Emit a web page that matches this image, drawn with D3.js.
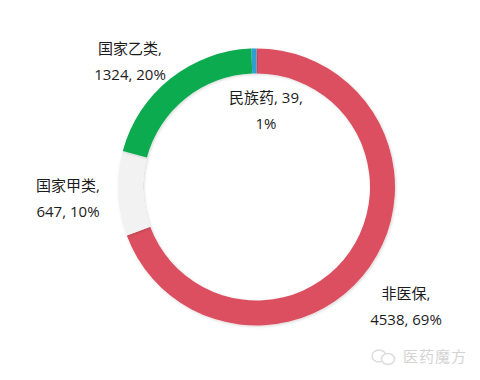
<!DOCTYPE html>
<html>
<head>
<meta charset="utf-8">
<script src="https://cdn.jsdelivr.net/npm/d3@7"></script>
<style>
  html, body { margin: 0; padding: 0; background: #fff; }
  text { font-family: "Open Sans", "Noto Sans CJK SC", sans-serif; fill: #1c1c1c; }
</style>
</head>
<body>
<svg id="plot" width="480" height="380"></svg>
<script>
var categories = ["非医保", "国家甲类", "国家乙类", "民族药"];
var values = [4538, 647, 1324, 39];
var percents = ["69%", "10%", "20%", "1%"];
var colors = ["#dc5060", "#f2f2f2", "#0bab50", "#2f9fd0"];

// label lines, second line break differs per slice
var labelLines = [
  [categories[0] + ",", values[0] + ", " + percents[0]],
  [categories[1] + ",", values[1] + ", " + percents[1]],
  [categories[2] + ",", values[2] + ", " + percents[2]],
  [categories[3] + ", " + values[3] + ",", percents[3]]
];
var labelPos = [[406, 293], [68, 185], [130, 48], [266, 97]];

var svg = d3.select("#plot");

var defs = svg.append("defs");
var shadow = defs.append("filter").attr("id", "shadow")
  .attr("x", "-10%").attr("y", "-10%").attr("width", "120%").attr("height", "120%");
shadow.append("feDropShadow")
  .attr("dx", 1).attr("dy", 1).attr("stdDeviation", 1.5)
  .attr("flood-color", "#000").attr("flood-opacity", 0.16);

var g = svg.append("g").attr("transform", "translate(256.5,187)");

var pie = d3.pie().sort(null);
var arc = d3.arc().innerRadius(113.5).outerRadius(138.5);

g.selectAll("path")
  .data(pie(values))
  .enter().append("path")
  .attr("d", arc)
  .attr("fill", function (d, i) { return colors[i]; })
  .attr("filter", "url(#shadow)");

labelLines.forEach(function (lines, i) {
  var t = svg.append("text")
    .attr("text-anchor", "middle")
    .style("font-size", "15px");
  lines.forEach(function (line, j) {
    t.append("tspan")
      .attr("x", labelPos[i][0])
      .attr("y", labelPos[i][1] + j * 26.5 + 5.5)
      .text(line);
  });
});

// watermark
var mark = svg.append("g").attr("fill", "#fff").attr("stroke", "#dcdcdc").attr("stroke-width", 1.5);
mark.append("ellipse").attr("cx", 379).attr("cy", 356).attr("rx", 7).attr("ry", 6);
mark.append("ellipse").attr("cx", 388).attr("cy", 359).attr("rx", 6.5).attr("ry", 5.5);
svg.append("text")
  .attr("x", 403).attr("y", 362)
  .style("font-size", "15px")
  .style("letter-spacing", "1px")
  .style("fill", "#d4d4d4")
  .text("医药魔方");
</script>
</body>
</html>
